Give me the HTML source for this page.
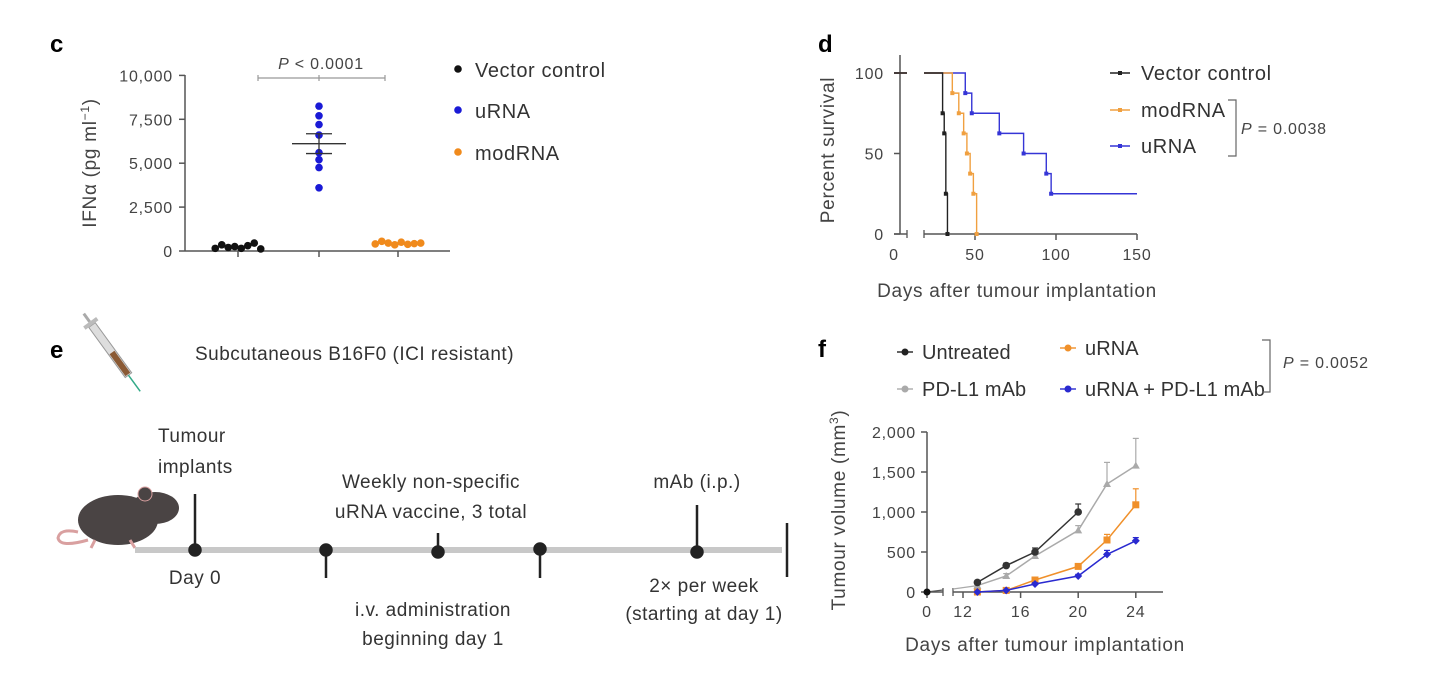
<!DOCTYPE html>
<html><head><meta charset="utf-8"><style>
html,body{margin:0;padding:0;background:#fff;}
svg{display:block;font-family:"Liberation Sans",sans-serif;}
.lg{font-size:20px;letter-spacing:0.6px;}
.lgf{font-size:20px;letter-spacing:0.1px;}
.tk{font-size:16px;letter-spacing:0.8px;}
.ti{font-size:19px;letter-spacing:0.7px;}
.et{font-size:19px;letter-spacing:0.5px;fill:#333;}
</style></head><body>
<svg id="fig" width="1446" height="682" viewBox="0 0 1446 682" xmlns="http://www.w3.org/2000/svg">
<text x="50" y="52" font-size="24" font-weight="bold">c</text>
<text x="818" y="52" font-size="24" font-weight="bold">d</text>
<text x="50" y="358" font-size="24" font-weight="bold">e</text>
<text x="818" y="357" font-size="24" font-weight="bold">f</text>
<g id="c"></g>
<g id="d"></g>
<g id="f"></g>
<g id="e">
  <g transform="translate(92,325) rotate(-36)">
    <rect x="-4" y="0" width="8" height="62" fill="#ddd" stroke="#999"/>
    <rect x="-3" y="34" width="6" height="27" fill="#8a5a35"/>
    <rect x="-8" y="-4" width="16" height="4" fill="#bbb"/>
    <line x1="0" y1="-4" x2="0" y2="-14" stroke="#aaa" stroke-width="3"/>
    <line x1="0" y1="62" x2="0" y2="82" stroke="#3a8" stroke-width="1.5"/>
  </g>
  <g>
    <path d="M88 540 Q60 548 58 538 Q60 528 78 532" fill="none" stroke="#d9a0a0" stroke-width="3"/>
    <ellipse cx="118" cy="520" rx="40" ry="25" fill="#4a4444"/>
    <ellipse cx="155" cy="508" rx="24" ry="16" fill="#4a4444"/>
    <circle cx="145" cy="494" r="7" fill="#4a4444" stroke="#d9a0a0"/>
    <path d="M95 540 l-4 8 M130 540 l5 8" stroke="#d9a0a0" stroke-width="3"/>
  </g>
  <text x="195" y="360" class="et">Subcutaneous B16F0 (ICI resistant)</text>
  <text x="158" y="442" class="et">Tumour</text>
  <text x="158" y="473" class="et">implants</text>
  <text x="431" y="488" class="et" text-anchor="middle">Weekly non-specific</text>
  <text x="431" y="518" class="et" text-anchor="middle">uRNA vaccine, 3 total</text>
  <text x="697" y="488" class="et" text-anchor="middle">mAb (i.p.)</text>
  <text x="195" y="584" class="et" text-anchor="middle">Day 0</text>
  <text x="433" y="616" class="et" text-anchor="middle">i.v. administration</text>
  <text x="433" y="645" class="et" text-anchor="middle">beginning day 1</text>
  <text x="704" y="592" class="et" text-anchor="middle">2× per week</text>
  <text x="704" y="620" class="et" text-anchor="middle">(starting at day 1)</text>
  <line x1="135" y1="550" x2="782" y2="550" stroke="#c8c8c8" stroke-width="6"/>
  <g stroke="#222" stroke-width="2.5" fill="#222">
    <line x1="195" y1="494" x2="195" y2="550"/><circle cx="195" cy="550" r="5.5"/>
    <line x1="326" y1="550" x2="326" y2="578"/><circle cx="326" cy="550" r="5.5"/>
    <line x1="438" y1="533" x2="438" y2="550"/><circle cx="438" cy="552" r="5.5"/>
    <line x1="540" y1="550" x2="540" y2="578"/><circle cx="540" cy="549" r="5.5"/>
    <line x1="697" y1="505" x2="697" y2="550"/><circle cx="697" cy="552" r="5.5"/>
    <line x1="787" y1="523" x2="787" y2="577"/>
  </g>
</g>
</svg>
<script>
// ---------- Panel c data ----------
const cCats = ["Vector control","uRNA","modRNA"];
const cColors = ["#111","#1a1ad6","#f08a1c"];
const cVector = [150, 350, 200, 250, 150, 300, 450, 120];
const cURNA = [8250, 7700, 7200, 6600, 5600, 5200, 4750, 3600];
const cModRNA = [400, 550, 450, 350, 500, 380, 420, 450];
const cTicks = [0, 2500, 5000, 7500, 10000];
const cTickLabels = ["0","2,500","5,000","7,500","10,000"];
// ---------- Panel d data ----------
const dXTicks = [0, 50, 100, 150];
const dYTicks = [0, 50, 100];
const dVecT = [0, 30, 31, 32, 33];
const dVecS = [100, 75, 62.5, 25, 0];
const dModT = [0, 36, 40, 43, 45, 47, 49, 51];
const dModS = [100, 87.5, 75, 62.5, 50, 37.5, 25, 0];
const dURNAT = [0, 44, 48, 65, 80, 94, 97, 150];
const dURNAS = [100, 87.5, 75, 62.5, 50, 37.5, 25, 25];
// ---------- Panel f data ----------
const fXTicks = [0, 12, 16, 20, 24];
const fYTicks = [0, 500, 1000, 1500, 2000];
const fYTickLabels = ["0","500","1,000","1,500","2,000"];
const fDays = [13, 15, 17, 20, 22, 24];
const fUntreated = [120, 330, 500, 1000, null, null];
const fUntreatedErr = [20, 30, 50, 100, null, null];
const fPDL1 = [80, 200, 450, 770, 1350, 1580];
const fPDL1Err = [15, 30, 40, 60, 270, 340];
const fURNA = [0, 20, 150, 320, 650, 1090];
const fURNAErr = [5, 10, 20, 30, 70, 200];
const fCombo = [0, 20, 100, 200, 470, 640];
const fComboErr = [5, 5, 15, 20, 50, 40];

const NS = "http://www.w3.org/2000/svg";
function mk(parent, tag, attrs, text){
  const el = document.createElementNS(NS, tag);
  for (const k in attrs) el.setAttribute(k, attrs[k]);
  if (text !== undefined) el.textContent = text;
  parent.appendChild(el);
  return el;
}
const AX = "#555";

// ===== Panel c =====
(function(){
  const g = document.getElementById("c");
  const y = v => 251 - v * 0.01756;
  const xc = [238, 319, 398];
  let el = mk(g,"line",{x1:185,y1:75,x2:185,y2:251,stroke:AX,"stroke-width":1.5});
   
  el = mk(g,"line",{x1:185,y1:251,x2:450,y2:251,stroke:AX,"stroke-width":1.5});
   
  cTicks.forEach((t,i)=>{
    mk(g,"line",{x1:179,y1:y(t),x2:185,y2:y(t),stroke:AX,"stroke-width":1.5});
    const lb = mk(g,"text",{x:173,y:y(t)+6,class:"tk","text-anchor":"end",fill:"#444"},cTickLabels[i]);
     
  });
  xc.forEach(x=>mk(g,"line",{x1:x,y1:251,x2:x,y2:257,stroke:AX,"stroke-width":1.5}));
  const yt = mk(g,"text",{x:0,y:0,class:"ti",fill:"#444","text-anchor":"middle",transform:"translate(96,163) rotate(-90)"});
   
  yt.innerHTML = 'IFNα (pg ml<tspan baseline-shift="super" font-size="12">−1</tspan>)';
  mk(g,"line",{x1:258,y1:78,x2:385,y2:78,stroke:"#999","stroke-width":1.2});
  [258,319,385].forEach(x=>mk(g,"line",{x1:x,y1:75,x2:x,y2:81,stroke:"#999","stroke-width":1.2}));
  const pt = mk(g,"text",{x:321,y:69,class:"tk","text-anchor":"middle",fill:"#444"});
  pt.innerHTML = '<tspan font-style="italic">P</tspan> &lt; 0.0001';
   
  const sets = [cVector,cURNA,cModRNA];
  sets.forEach((arr,gi)=>{
    arr.forEach((v,i)=>{
      let dx = gi===1 ? 0 : (i - (arr.length-1)/2) * 6.5;
      const c = mk(g,"circle",{cx:xc[gi]+dx,cy:y(v),r:3.8,fill:cColors[gi]});
      
      
    });
    const mean = arr.reduce((a,b)=>a+b,0)/arr.length;
    const sd = Math.sqrt(arr.reduce((a,b)=>a+(b-mean)*(b-mean),0)/(arr.length-1));
    const sem = sd/Math.sqrt(arr.length);
    if (gi===1){
      mk(g,"line",{x1:xc[gi]-27,y1:y(mean),x2:xc[gi]+27,y2:y(mean),stroke:"#333","stroke-width":1.3});
      mk(g,"line",{x1:xc[gi]-13,y1:y(mean+sem),x2:xc[gi]+13,y2:y(mean+sem),stroke:"#333","stroke-width":1.3});
      mk(g,"line",{x1:xc[gi]-13,y1:y(mean-sem),x2:xc[gi]+13,y2:y(mean-sem),stroke:"#333","stroke-width":1.3});
      mk(g,"line",{x1:xc[gi],y1:y(mean+sem),x2:xc[gi],y2:y(mean-sem),stroke:"#333","stroke-width":1.3});
    }
  });
  const ly = [70, 111, 153];
  cCats.forEach((c,i)=>{
    mk(g,"circle",{cx:458,cy:ly[i]-1,r:3.8,fill:cColors[i]});
    const t = mk(g,"text",{x:475,y:ly[i]+7,class:"lg",fill:"#333"},c);
     
  });
})();

// ===== Panel d =====
(function(){
  const g = document.getElementById("d");
  const x = v => 894 + v*1.62;
  const y = v => 234 - v*1.61;
  let el = mk(g,"line",{x1:900,y1:55,x2:900,y2:234,stroke:AX,"stroke-width":1.5});
   
  mk(g,"line",{x1:894,y1:234,x2:907,y2:234,stroke:AX,"stroke-width":1.5});
  el = mk(g,"line",{x1:924,y1:234,x2:1137,y2:234,stroke:AX,"stroke-width":1.5});
   
  mk(g,"line",{x1:907,y1:230,x2:907,y2:238,stroke:AX,"stroke-width":1.3});
  mk(g,"line",{x1:924,y1:230,x2:924,y2:238,stroke:AX,"stroke-width":1.3});
  dXTicks.forEach(t=>{
    if (t>0) mk(g,"line",{x1:x(t),y1:234,x2:x(t),y2:240,stroke:AX,"stroke-width":1.5});
    const lb = mk(g,"text",{x:x(t),y:260,class:"tk","text-anchor":"middle",fill:"#444"},String(t));
     
  });
  dYTicks.forEach(t=>{
    mk(g,"line",{x1:894,y1:y(t),x2:900,y2:y(t),stroke:AX,"stroke-width":1.5});
    const lb = mk(g,"text",{x:884,y:y(t)+6,class:"tk","text-anchor":"end",fill:"#444"},String(t));
     
  });
  let t = mk(g,"text",{x:0,y:0,class:"ti",fill:"#444","text-anchor":"middle",transform:"translate(834,150) rotate(-90)"},"Percent survival");
   
  t = mk(g,"text",{x:1017,y:297,class:"ti",fill:"#444","text-anchor":"middle"},"Days after tumour implantation");
   
  function km(T,S,color,name){
    let d = "M"+x(T[0])+" "+y(S[0]);
    for (let i=1;i<T.length;i++){ d += " H"+x(T[i])+" V"+y(S[i]); }
    const p = mk(g,"path",{d:d,fill:"none",stroke:color,"stroke-width":1.4});
     
    for (let i=1;i<T.length;i++){
      if (S[i] !== S[i-1]) mk(g,"rect",{x:x(T[i])-2,y:y(S[i])-2,width:4,height:4,fill:color});
    }
  }
  km(dURNAT,dURNAS,"#3535d6","d-line-urna");
  km(dModT,dModS,"#f0a040","d-line-modrna");
  km(dVecT,dVecS,"#222","d-line-vector-control");
  mk(g,"rect",{x:907,y:70,width:17,height:6,fill:"#fff"});
  const leg = [["Vector control","#222",73],["modRNA","#f0a040",110],["uRNA","#3535d6",146]];
  leg.forEach(l=>{
    mk(g,"line",{x1:1110,y1:l[2],x2:1130,y2:l[2],stroke:l[1],"stroke-width":1.4});
    mk(g,"rect",{x:1118,y:l[2]-2,width:4,height:4,fill:l[1]});
    const tx = mk(g,"text",{x:1141,y:l[2]+7,class:"lg",fill:"#333"},l[0]);
     
  });
  mk(g,"path",{d:"M1228 100 H1236 V156 H1228",fill:"none",stroke:"#666","stroke-width":1.2});
  const p = mk(g,"text",{x:1241,y:134,class:"tk",fill:"#444"});
  p.innerHTML = '<tspan font-style="italic">P</tspan> = 0.0038';
   
})();

// ===== Panel f =====
(function(){
  const g = document.getElementById("f");
  const x = v => v===0 ? 927 : 963 + (v-12)*14.4;
  const y = v => 592 - v*0.08;
  let el = mk(g,"line",{x1:927,y1:432,x2:927,y2:592,stroke:AX,"stroke-width":1.5});
   
  mk(g,"line",{x1:927,y1:592,x2:943,y2:592,stroke:AX,"stroke-width":1.5});
  mk(g,"line",{x1:943,y1:588,x2:943,y2:596,stroke:AX,"stroke-width":1.3});
  mk(g,"line",{x1:953,y1:588,x2:953,y2:596,stroke:AX,"stroke-width":1.3});
  el = mk(g,"line",{x1:953,y1:592,x2:1163,y2:592,stroke:AX,"stroke-width":1.5});
   
  fXTicks.forEach(t=>{
    mk(g,"line",{x1:x(t),y1:592,x2:x(t),y2:598,stroke:AX,"stroke-width":1.5});
    const lb = mk(g,"text",{x:x(t),y:617,class:"tk","text-anchor":"middle",fill:"#444"},String(t));
     
  });
  fYTicks.forEach((t,i)=>{
    mk(g,"line",{x1:921,y1:y(t),x2:927,y2:y(t),stroke:AX,"stroke-width":1.5});
    const lb = mk(g,"text",{x:916,y:y(t)+6,class:"tk","text-anchor":"end",fill:"#444"},fYTickLabels[i]);
     
  });
  let t = mk(g,"text",{x:0,y:0,class:"ti",fill:"#444","text-anchor":"middle",transform:"translate(845,510) rotate(-90)"});
  t.innerHTML = 'Tumour volume (mm<tspan baseline-shift="super" font-size="12">3</tspan>)';
   
  t = mk(g,"text",{x:1045,y:651,class:"ti",fill:"#444","text-anchor":"middle"},"Days after tumour implantation");
   
  mk(g,"line",{x1:927,y1:592,x2:943,y2:590,stroke:"#555","stroke-width":1.2});
  mk(g,"line",{x1:953,y1:589,x2:x(13),y2:y(fPDL1[0]),stroke:"#aaa","stroke-width":1.3});
  mk(g,"circle",{cx:927,cy:592,r:3.5,fill:"#111"});
  function series(vals,errs,color,marker,name,w){
    const pts = [];
    vals.forEach((v,i)=>{ if(v!==null) pts.push([x(fDays[i]),y(v),errs[i],v]); });
    const p = mk(g,"polyline",{points:pts.map(q=>q[0]+","+q[1]).join(" "),fill:"none",stroke:color,"stroke-width":w});
     
    pts.forEach(q=>{
      const ye = y(q[3]+q[2]);
      mk(g,"line",{x1:q[0],y1:q[1],x2:q[0],y2:ye,stroke:color,"stroke-width":1.2});
      mk(g,"line",{x1:q[0]-3,y1:ye,x2:q[0]+3,y2:ye,stroke:color,"stroke-width":1.2});
      if (marker==="circle") mk(g,"circle",{cx:q[0],cy:q[1],r:3.8,fill:color});
      else if (marker==="tri") mk(g,"path",{d:`M${q[0]} ${q[1]-4} L${q[0]+4} ${q[1]+3} L${q[0]-4} ${q[1]+3}Z`,fill:color});
      else if (marker==="sq") mk(g,"rect",{x:q[0]-3.5,y:q[1]-3.5,width:7,height:7,fill:color});
      else mk(g,"path",{d:`M${q[0]} ${q[1]-4} L${q[0]+4} ${q[1]} L${q[0]} ${q[1]+4} L${q[0]-4} ${q[1]}Z`,fill:color});
    });
  }
  series(fPDL1,fPDL1Err,"#aaa","tri","f-line-pd-l1-mab",1.5);
  series(fUntreated,fUntreatedErr,"#333","circle","f-line-untreated",1.5);
  series(fURNA,fURNAErr,"#f0902a","sq","f-line-urna",1.5);
  series(fCombo,fComboErr,"#2a2ad0","dia","f-line-urna-pd-l1",1.5);
  const leg = [["Untreated","#222",900,352],["PD-L1 mAb","#aaa",900,389],["uRNA","#f0902a",1063,348],["uRNA + PD-L1 mAb","#2a2ad0",1063,389]];
  leg.forEach(l=>{
    mk(g,"line",{x1:l[2]-3,y1:l[3],x2:l[2]+13,y2:l[3],stroke:l[1],"stroke-width":1.4});
    mk(g,"circle",{cx:l[2]+5,cy:l[3],r:3.5,fill:l[1]});
    const tx = mk(g,"text",{x:l[2]+22,y:l[3]+7,class:"lgf",fill:"#333"},l[0]);
     
  });
  mk(g,"path",{d:"M1262 340 H1270 V392 H1262",fill:"none",stroke:"#666","stroke-width":1.2});
  const p = mk(g,"text",{x:1283,y:368,class:"tk",fill:"#444"});
  p.innerHTML = '<tspan font-style="italic">P</tspan> = 0.0052';
   
})();
</script>
</body></html>
